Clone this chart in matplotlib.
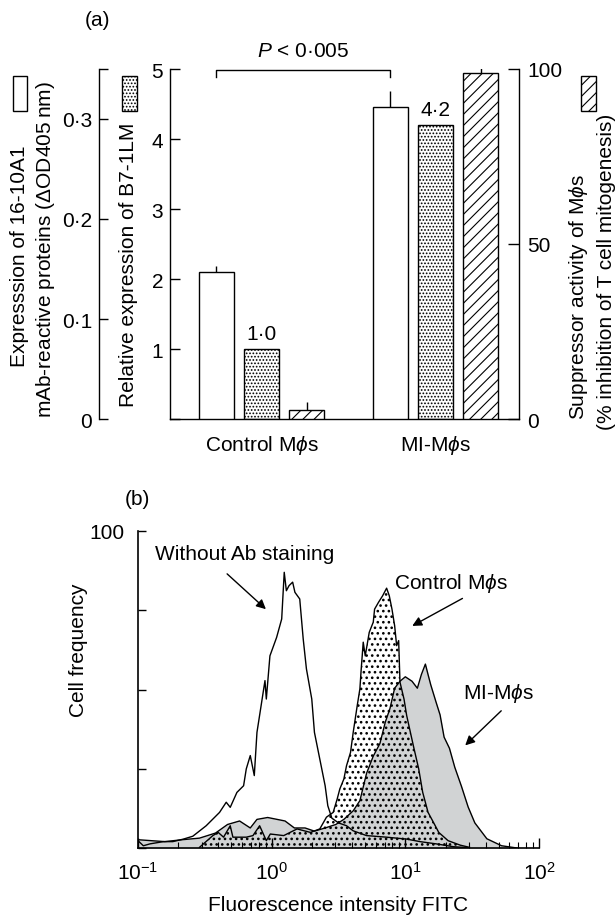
import matplotlib
matplotlib.use('Agg')
import matplotlib.pyplot as plt
from matplotlib.patches import Rectangle
from matplotlib.ticker import FuncFormatter, NullFormatter, LogLocator
import numpy as np

plt.rcParams['font.family'] = ['Liberation Sans', 'DejaVu Sans']
plt.rcParams['mathtext.fontset'] = 'custom'
plt.rcParams['mathtext.rm'] = 'Liberation Sans'
plt.rcParams['mathtext.it'] = 'Liberation Sans:italic'
plt.rcParams['hatch.linewidth'] = 0.8

# ---- panel (a) data ----
groups = ['Control M$\\phi$s', 'MI-M$\\phi$s']
od405 = [0.147, 0.312]          # 16-10A1 expression (white bars)
od405_err = [0.006, 0.016]
b71lm = [1.0, 4.2]              # relative B7-1LM expression (dotted bars)
b71lm_labels = ['1·0', '4·2']
suppression = [2.6, 98.9]       # % inhibition (hatched bars)
suppression_err = [2.3, 2.8]

# ---- panel (b) data: log10(FITC) and cell frequency ----
wo_logx = [-1.0, -0.96, -0.91, -0.81, -0.74, -0.66, -0.59, -0.49, -0.39, -0.34,
           -0.31, -0.26, -0.21, -0.19, -0.16, -0.13, -0.11, -0.075, -0.05, -0.04,
           -0.013, 0.037, 0.075, 0.094, 0.11, 0.13, 0.157, 0.174, 0.21, 0.236,
           0.26, 0.30, 0.32, 0.36, 0.40, 0.42, 0.45, 0.50, 0.56, 0.61,
           0.71, 0.86, 1.01, 1.11, 1.23, 1.36, 1.47]
wo_freq = [2.4, 0.8, 1.4, 2.1, 2.1, 2.9, 3.8, 7.1, 11.3, 14.5,
           12.9, 17.6, 19.7, 25.0, 29.2, 22.9, 36.5, 46.0, 52.8, 47.0,
           60.6, 66.4, 72.2, 86.9, 81.1, 82.7, 83.8, 80.6, 78.5, 65.9,
           56.5, 47.0, 36.5, 28.1, 19.7, 13.4, 9.5, 8.0, 7.1, 5.5,
           4.0, 3.5, 2.9, 2.1, 1.4, 0.5, 0.2]

ct_logx = [-0.54, -0.44, -0.40, -0.36, -0.31, -0.29, -0.19, -0.14, -0.09, -0.04,
           -0.01, 0.09, 0.19, 0.29, 0.36, 0.41, 0.46, 0.49, 0.51, 0.54,
           0.56, 0.59, 0.61, 0.64, 0.66, 0.67, 0.685, 0.70, 0.73, 0.76,
           0.77, 0.80, 0.83, 0.86, 0.88, 0.90, 0.92, 0.935, 0.95, 0.96,
           0.99, 1.01, 1.06, 1.10, 1.13, 1.17, 1.21, 1.25, 1.32, 1.41, 1.48]
ct_freq = [0.3, 4.0, 5.0, 3.5, 7.1, 3.5, 3.5, 4.0, 7.1, 2.4,
           4.5, 4.0, 6.1, 5.0, 6.1, 9.8, 11.3, 15.5, 18.7, 21.8,
           26.0, 30.2, 36.5, 44.9, 50.2, 56.5, 64.9, 60.6, 68.0, 71.2,
           75.3, 77.5, 79.5, 81.9, 79.5, 75.3, 70.1, 63.8, 65.4, 52.3,
           47.0, 41.8, 32.3, 25.0, 17.6, 11.3, 8.2, 5.0, 2.4, 1.0, 0.3]

mi_logx = [-1.0, -0.80, -0.67, -0.54, -0.42, -0.33, -0.24, -0.16, -0.11, -0.03,
           0.10, 0.17, 0.25, 0.32, 0.40, 0.48, 0.54, 0.61, 0.66, 0.71,
           0.76, 0.81, 0.85, 0.885, 0.92, 0.96, 1.00, 1.05, 1.09, 1.12,
           1.15, 1.17, 1.19, 1.23, 1.26, 1.29, 1.33, 1.37, 1.42, 1.47,
           1.52, 1.61, 1.72, 1.85]
mi_freq = [2.7, 2.1, 2.7, 3.2, 4.8, 7.5, 8.6, 6.4, 9.1, 9.7,
           8.6, 6.4, 6.4, 5.4, 6.4, 7.5, 9.1, 11.8, 15.0, 23.6,
           29.0, 33.0, 39.7, 44.0, 50.4, 52.6, 54.0, 52.6, 50.4, 54.7,
           58.0, 54.7, 51.5, 46.0, 42.0, 35.0, 31.5, 25.5, 19.5, 13.0,
           8.0, 3.0, 0.8, 0.0]

W, H = 615, 920
FS = 15
GRAY = '#d1d3d4'


def fx(px):
    return px / W


def fy(py):
    return 1 - py / H


def dot_fmt(v, pos):
    return ('%g' % v).replace('.', '·')


fig = plt.figure(figsize=(6.15, 9.2), dpi=100)

# ================= panel (a) =================
ax = fig.add_axes([fx(170), fy(420), fx(519) - fx(170), fy(70) - fy(420)])
ax_od = ax.twinx()
ax_sup = ax.twinx()

x = np.arange(len(groups))
w = 0.2
off = 0.26
ax.set_xlim(-0.526, 1.48)
ax.set_ylim(0, 5)
ax_od.set_ylim(0, 0.35)
ax_sup.set_ylim(0, 100)

ax_od.bar(x - off, od405, w, color='white', edgecolor='k', linewidth=1)
ax_od.errorbar(x - off, od405, yerr=[[0, 0], od405_err], fmt='none',
               ecolor='k', elinewidth=1, capsize=0)
ax.bar(x, b71lm, w, color='white', edgecolor='k', linewidth=1, hatch='.....')
ax_sup.bar(x + off, suppression, w, color='white', edgecolor='k', linewidth=1, hatch='///')
ax_sup.errorbar(x + off, suppression, yerr=[[0, 0], suppression_err], fmt='none',
                ecolor='k', elinewidth=1, capsize=0)
for xi, v, lab in zip(x, b71lm, b71lm_labels):
    ax.annotate(lab, (xi, v), xytext=(0, 4), textcoords='offset points',
                ha='center', va='bottom', fontsize=FS)

# significance bracket between the white bars
xl, xr = x[0] - off, x[1] - off
ax.plot([xl, xl, xr, xr], [4.89, 4.99, 4.99, 4.89], color='k', lw=1, clip_on=False)
ax.text((xl + xr) / 2, 5.26, '$P$ < 0·005', ha='center', va='center', fontsize=FS)

# main axis (B7-1LM)
for s in ['top', 'right']:
    ax.spines[s].set_visible(False)
ax.set_yticks([0, 1, 2, 3, 4, 5])
ax.set_yticklabels(['', '1', '2', '3', '4', '5'])
ax.tick_params(axis='y', direction='in', length=7, width=1, pad=5, labelsize=FS)
ax.set_xticks(x)
ax.set_xticklabels(groups)
ax.tick_params(axis='x', length=0, pad=10, labelsize=FS)

# outer-left axis (OD405)
for s in ['top', 'right', 'bottom']:
    ax_od.spines[s].set_visible(False)
ax_od.spines['left'].set_position(('axes', -0.2034))
ax_od.yaxis.set_ticks_position('left')
ax_od.set_yticks([0, 0.1, 0.2, 0.3, 0.35])
ax_od.yaxis.set_major_formatter(FuncFormatter(lambda v, p: '' if v > 0.32 else dot_fmt(v, p)))
ax_od.tick_params(axis='y', direction='in', length=6.5, width=1, pad=5, labelsize=FS)

# right axis (suppression)
for s in ['top', 'left', 'bottom']:
    ax_sup.spines[s].set_visible(False)
ax_sup.set_yticks([0, 50, 100])
ax_sup.tick_params(axis='y', direction='in', length=8, width=1, pad=6, labelsize=FS)
for a in (ax, ax_od, ax_sup):
    for s in a.spines.values():
        s.set_linewidth(1)

# axis titles with key boxes
fig.text(fx(20), fy(367), 'Expresssion of 16-10A1', rotation=90, ha='center', va='bottom', fontsize=FS)
fig.text(fx(46), fy(250), 'mAb-reactive proteins ($\\Delta$OD405\u2009nm)', rotation=90,
         ha='center', va='center', fontsize=FS)
fig.text(fx(129), fy(407), 'Relative expression of B7-1LM', rotation=90, ha='center',
         va='bottom', fontsize=FS)
fig.text(fx(579), fy(420), 'Suppressor activity of M$\\phi$s', rotation=90, ha='center',
         va='bottom', fontsize=FS)
fig.text(fx(606), fy(272), '(% inhibition of T cell mitogenesis)', rotation=90, ha='center',
         va='center', fontsize=FS)
for (x0, x1, hatch) in [(13, 27, None), (122, 137, '.....'), (581, 596, '///')]:
    fig.patches.append(Rectangle((fx(x0), fy(112)), fx(x1) - fx(x0), fy(77) - fy(112),
                                 transform=fig.transFigure, facecolor='white',
                                 edgecolor='k', linewidth=1, hatch=hatch))

fig.text(fx(97), fy(20), '(a)', ha='center', va='center', fontsize=FS)
fig.text(fx(137), fy(500), '(b)', ha='center', va='center', fontsize=FS)

# ================= panel (b) =================
axb = fig.add_axes([fx(138), fy(849.3), fx(539) - fx(138), fy(531.7) - fy(849.3)])
wo_x = 10 ** np.array(wo_logx)
ct_x = 10 ** np.array(ct_logx)
mi_x = 10 ** np.array(mi_logx)

axb.fill_between(ct_x, ct_freq, color='white', lw=0, zorder=1)
axb.fill_between(mi_x, mi_freq, color=GRAY, lw=0, zorder=1.1)
plt.rcParams['hatch.linewidth'] = 1.1
axb.fill_between(ct_x, ct_freq, facecolor='none', edgecolor='k', hatch='...', lw=0, zorder=1.2)
plt.rcParams['hatch.linewidth'] = 0.8
axb.plot(mi_x, mi_freq, color='k', lw=1, zorder=2)
axb.plot(ct_x, ct_freq, color='k', lw=1, zorder=2)
axb.plot(wo_x, wo_freq, color='k', lw=1, zorder=2)

axb.set_xscale('log')
axb.set_xlim(0.1, 100)
axb.set_ylim(0, 100)
for s in ['top', 'right']:
    axb.spines[s].set_visible(False)
for s in ['left', 'bottom']:
    axb.spines[s].set_linewidth(1.2)
axb.set_yticks([0, 25, 50, 75, 100])
axb.set_yticklabels(['', '', '', '', '100'])
axb.tick_params(axis='y', direction='in', length=6, width=1, pad=10, labelsize=FS)
axb.xaxis.set_major_locator(LogLocator(base=10, numticks=10))
axb.xaxis.set_minor_locator(LogLocator(base=10, subs=np.arange(2, 10), numticks=10))
axb.xaxis.set_minor_formatter(NullFormatter())
axb.tick_params(axis='x', which='major', direction='in', length=7, width=1, pad=9, labelsize=FS)
axb.tick_params(axis='x', which='minor', direction='in', length=4, width=0.8)

axb.text(0.631, 92.7, 'Without Ab staining', ha='center', va='center', fontsize=FS)
axb.annotate('', xy=(0.938, 74.7), xytext=(0.448, 87.0),
             arrowprops=dict(arrowstyle='-|>', color='k', lw=1, mutation_scale=14))
axb.text(21.9, 83.8, 'Control M$\\phi$s', ha='center', va='center', fontsize=FS)
axb.annotate('', xy=(10.8, 69.6), xytext=(27.9, 79.1),
             arrowprops=dict(arrowstyle='-|>', color='k', lw=1, mutation_scale=14))
axb.text(49.3, 49.2, 'MI-M$\\phi$s', ha='center', va='center', fontsize=FS)
axb.annotate('', xy=(27.1, 31.8), xytext=(54.0, 43.9),
             arrowprops=dict(arrowstyle='-|>', color='k', lw=1, mutation_scale=14))

fig.text(fx(78), fy(650), 'Cell frequency', rotation=90, ha='center', va='center', fontsize=FS)
fig.text(fx(338), fy(906), 'Fluorescence intensity FITC', ha='center', va='center', fontsize=FS)

fig.savefig('out.png', dpi=100)
